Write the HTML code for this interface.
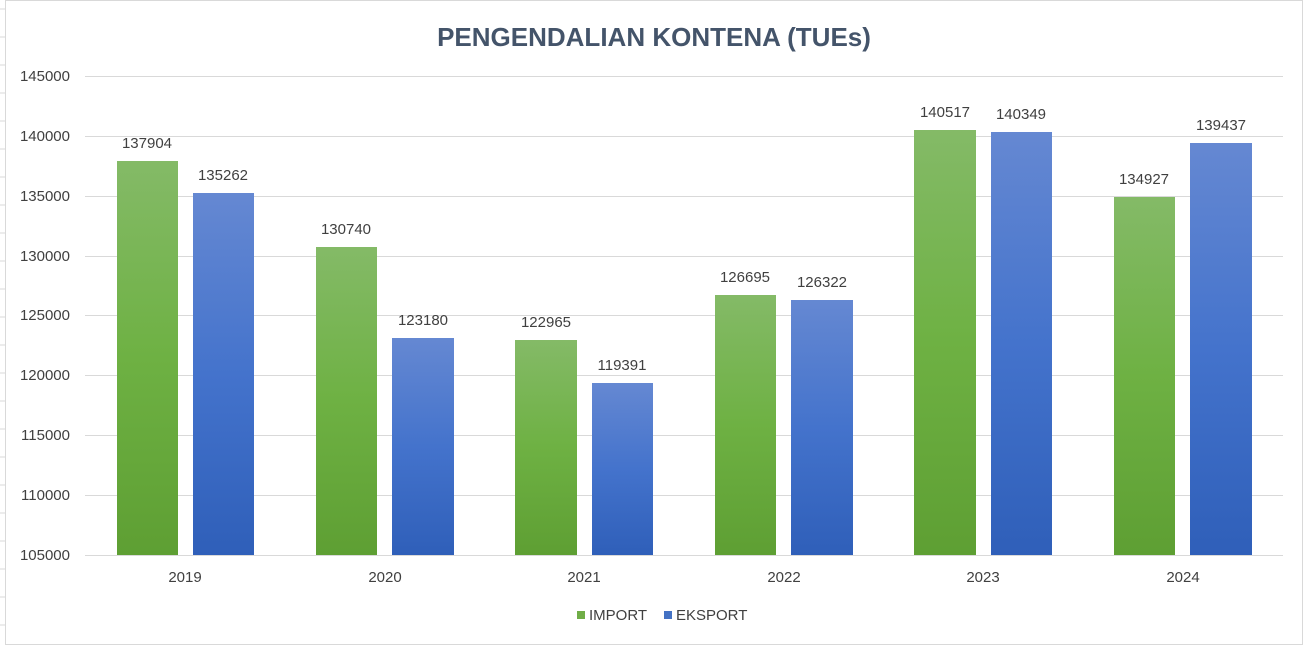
<!DOCTYPE html>
<html><head><meta charset="utf-8"><style>
body{margin:0;background:#fff}
svg{display:block;font-family:"Liberation Sans","DejaVu Sans",sans-serif}
</style></head><body>
<svg width="1303" height="646" viewBox="0 0 1303 646">
<defs>
<linearGradient id="g" x1="0" y1="0" x2="0" y2="1"><stop offset="0" stop-color="#84ba67"/><stop offset="0.5" stop-color="#6eb143"/><stop offset="1" stop-color="#5e9f33"/></linearGradient>
<linearGradient id="b" x1="0" y1="0" x2="0" y2="1"><stop offset="0" stop-color="#6588d2"/><stop offset="0.5" stop-color="#4473cc"/><stop offset="1" stop-color="#2f5fb9"/></linearGradient>
</defs>
<rect x="0" y="0" width="1303" height="646" fill="#fff"/>
<g stroke="#d9d9d9" stroke-width="1">
<line x1="0" y1="9" x2="5" y2="9"/><line x1="0" y1="37" x2="5" y2="37"/><line x1="0" y1="65" x2="5" y2="65"/><line x1="0" y1="93" x2="5" y2="93"/><line x1="0" y1="121" x2="5" y2="121"/><line x1="0" y1="149" x2="5" y2="149"/><line x1="0" y1="177" x2="5" y2="177"/><line x1="0" y1="205" x2="5" y2="205"/><line x1="0" y1="233" x2="5" y2="233"/><line x1="0" y1="261" x2="5" y2="261"/><line x1="0" y1="289" x2="5" y2="289"/><line x1="0" y1="317" x2="5" y2="317"/><line x1="0" y1="345" x2="5" y2="345"/><line x1="0" y1="373" x2="5" y2="373"/><line x1="0" y1="401" x2="5" y2="401"/><line x1="0" y1="429" x2="5" y2="429"/><line x1="0" y1="457" x2="5" y2="457"/><line x1="0" y1="485" x2="5" y2="485"/><line x1="0" y1="513" x2="5" y2="513"/><line x1="0" y1="541" x2="5" y2="541"/><line x1="0" y1="569" x2="5" y2="569"/><line x1="0" y1="597" x2="5" y2="597"/><line x1="0" y1="625" x2="5" y2="625"/>
</g>
<rect x="5.5" y="0.5" width="1297" height="644" fill="none" stroke="#d9d9d9"/>
<text x="654" y="46" text-anchor="middle" font-size="26" font-weight="bold" fill="#44546a">PENGENDALIAN KONTENA (TUEs)</text>
<g stroke="#d9d9d9" stroke-width="1">
<line x1="85" y1="76.5" x2="1283" y2="76.5"/><line x1="85" y1="136.5" x2="1283" y2="136.5"/><line x1="85" y1="196.5" x2="1283" y2="196.5"/><line x1="85" y1="256.5" x2="1283" y2="256.5"/><line x1="85" y1="315.5" x2="1283" y2="315.5"/><line x1="85" y1="375.5" x2="1283" y2="375.5"/><line x1="85" y1="435.5" x2="1283" y2="435.5"/><line x1="85" y1="495.5" x2="1283" y2="495.5"/><line x1="85" y1="555.5" x2="1283" y2="555.5"/>
</g>
<g font-size="15" fill="#404040" text-anchor="end">
<text x="70" y="81">145000</text><text x="70" y="141">140000</text><text x="70" y="201">135000</text><text x="70" y="261">130000</text><text x="70" y="320">125000</text><text x="70" y="380">120000</text><text x="70" y="440">115000</text><text x="70" y="500">110000</text><text x="70" y="560">105000</text>
</g>
<g>
<rect x="117" y="161" width="61" height="394" fill="url(#g)"/><rect x="193" y="193" width="61" height="362" fill="url(#b)"/>
<rect x="316" y="247" width="61" height="308" fill="url(#g)"/><rect x="392" y="338" width="62" height="217" fill="url(#b)"/>
<rect x="515" y="340" width="62" height="215" fill="url(#g)"/><rect x="592" y="383" width="61" height="172" fill="url(#b)"/>
<rect x="715" y="295" width="61" height="260" fill="url(#g)"/><rect x="791" y="300" width="62" height="255" fill="url(#b)"/>
<rect x="914" y="130" width="62" height="425" fill="url(#g)"/><rect x="991" y="132" width="61" height="423" fill="url(#b)"/>
<rect x="1114" y="197" width="61" height="358" fill="url(#g)"/><rect x="1190" y="143" width="62" height="412" fill="url(#b)"/>
</g>
<g font-size="15" fill="#404040" text-anchor="middle">
<text x="147" y="148">137904</text><text x="223" y="180">135262</text>
<text x="346" y="234">130740</text><text x="423" y="325">123180</text>
<text x="546" y="327">122965</text><text x="622" y="370">119391</text>
<text x="745" y="282">126695</text><text x="822" y="287">126322</text>
<text x="945" y="117">140517</text><text x="1021" y="119">140349</text>
<text x="1144" y="184">134927</text><text x="1221" y="130">139437</text>
</g>
<g font-size="15" fill="#404040" text-anchor="middle">
<text x="185" y="582">2019</text><text x="385" y="582">2020</text><text x="584" y="582">2021</text><text x="784" y="582">2022</text><text x="983" y="582">2023</text><text x="1183" y="582">2024</text>
</g>
<rect x="577" y="611" width="8" height="8" fill="#70ad47"/>
<text x="589" y="620" font-size="15" fill="#404040">IMPORT</text>
<rect x="664" y="611" width="8" height="8" fill="#4472c4"/>
<text x="676" y="620" font-size="15" fill="#404040">EKSPORT</text>
</svg>
</body></html>
